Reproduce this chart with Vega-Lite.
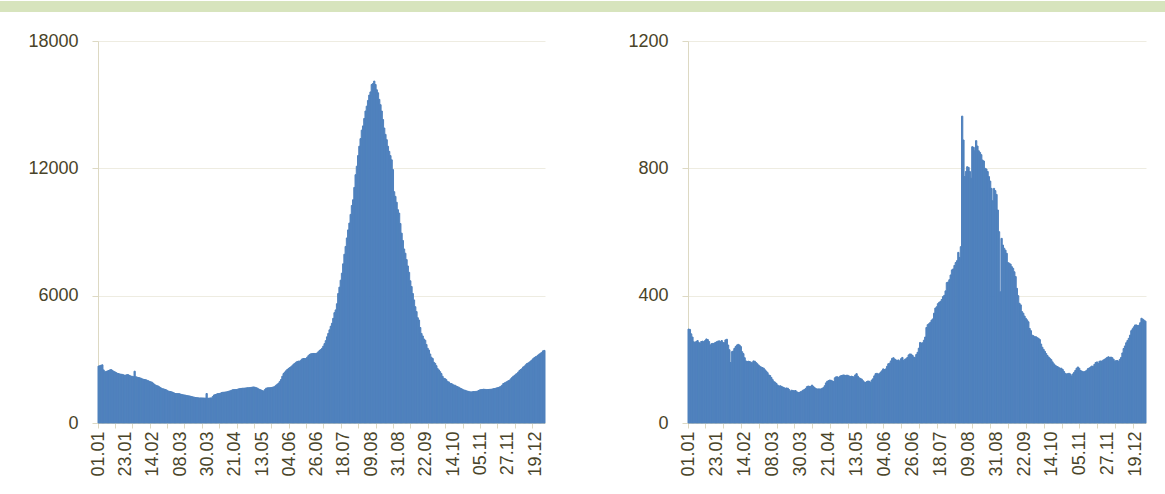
{
"$schema": "https://vega.github.io/schema/vega-lite/v6.json",
"padding": 0,
"background": "white",
"spacing": 20,
"config": {"view": {"stroke": null}, "axis": {"labelFont": "Liberation Sans", "labelFontSize": 18, "labelColor": "#494429", "title": null}},
"datasets": {"d": [
{"t":"01.01","a":2680,"b":295},{"t":"02.01","a":2700,"b":294},{"t":"03.01","a":2720,"b":280},{"t":"04.01","a":2740,"b":270},{"t":"05.01","a":2500,"b":255},{"t":"06.01","a":2410,"b":253},{"t":"07.01","a":2430,"b":256},{"t":"08.01","a":2450,"b":259},{"t":"09.01","a":2470,"b":253},{"t":"10.01","a":2500,"b":250},
{"t":"11.01","a":2520,"b":256},{"t":"12.01","a":2480,"b":257},{"t":"13.01","a":2440,"b":255},{"t":"14.01","a":2410,"b":259},{"t":"15.01","a":2380,"b":264},{"t":"16.01","a":2340,"b":262},{"t":"17.01","a":2330,"b":256},{"t":"18.01","a":2310,"b":245},{"t":"19.01","a":2300,"b":249},{"t":"20.01","a":2290,"b":250},
{"t":"21.01","a":2270,"b":250},{"t":"22.01","a":2250,"b":253},{"t":"23.01","a":2260,"b":255},{"t":"24.01","a":2280,"b":257},{"t":"25.01","a":2270,"b":258},{"t":"26.01","a":2240,"b":255},{"t":"27.01","a":2210,"b":259},{"t":"28.01","a":2200,"b":253},{"t":"29.01","a":2180,"b":252},{"t":"30.01","a":2440,"b":261},
{"t":"31.01","a":2180,"b":263},{"t":"01.02","a":2160,"b":245},{"t":"02.02","a":2140,"b":230},{"t":"03.02","a":2130,"b":190},{"t":"04.02","a":2110,"b":224},{"t":"05.02","a":2080,"b":226},{"t":"06.02","a":2060,"b":234},{"t":"07.02","a":2050,"b":240},{"t":"08.02","a":2040,"b":245},{"t":"09.02","a":2010,"b":247},
{"t":"10.02","a":1990,"b":245},{"t":"11.02","a":1960,"b":240},{"t":"12.02","a":1940,"b":224},{"t":"13.02","a":1920,"b":218},{"t":"14.02","a":1870,"b":205},{"t":"15.02","a":1820,"b":195},{"t":"16.02","a":1780,"b":193},{"t":"17.02","a":1760,"b":194},{"t":"18.02","a":1740,"b":193},{"t":"19.02","a":1700,"b":191},
{"t":"20.02","a":1660,"b":189},{"t":"21.02","a":1620,"b":195},{"t":"22.02","a":1610,"b":194},{"t":"23.02","a":1590,"b":190},{"t":"24.02","a":1575,"b":186},{"t":"25.02","a":1540,"b":182},{"t":"26.02","a":1510,"b":178},{"t":"27.02","a":1490,"b":176},{"t":"28.02","a":1480,"b":174},{"t":"01.03","a":1465,"b":172},
{"t":"02.03","a":1440,"b":167},{"t":"03.03","a":1410,"b":163},{"t":"04.03","a":1390,"b":158},{"t":"05.03","a":1386,"b":151},{"t":"06.03","a":1386,"b":149},{"t":"07.03","a":1380,"b":143},{"t":"08.03","a":1360,"b":136},{"t":"09.03","a":1345,"b":130},{"t":"10.03","a":1330,"b":128},{"t":"11.03","a":1320,"b":124},
{"t":"12.03","a":1310,"b":119},{"t":"13.03","a":1295,"b":116},{"t":"14.03","a":1285,"b":117},{"t":"15.03","a":1275,"b":115},{"t":"16.03","a":1260,"b":113},{"t":"17.03","a":1245,"b":111},{"t":"18.03","a":1230,"b":109},{"t":"19.03","a":1215,"b":110},{"t":"20.03","a":1200,"b":109},{"t":"21.03","a":1195,"b":105},
{"t":"22.03","a":1190,"b":100},{"t":"23.03","a":1180,"b":103},{"t":"24.03","a":1180,"b":102},{"t":"25.03","a":1180,"b":101},{"t":"26.03","a":1180,"b":102},{"t":"27.03","a":1175,"b":98},{"t":"28.03","a":1170,"b":96},{"t":"29.03","a":1390,"b":96},{"t":"30.03","a":1165,"b":98},{"t":"31.03","a":1170,"b":100},
{"t":"01.04","a":1180,"b":103},{"t":"02.04","a":1180,"b":105},{"t":"03.04","a":1250,"b":108},{"t":"04.04","a":1320,"b":114},{"t":"05.04","a":1340,"b":116},{"t":"06.04","a":1360,"b":115},{"t":"07.04","a":1385,"b":115},{"t":"08.04","a":1390,"b":119},{"t":"09.04","a":1400,"b":115},{"t":"10.04","a":1430,"b":111},
{"t":"11.04","a":1445,"b":108},{"t":"12.04","a":1450,"b":107},{"t":"13.04","a":1460,"b":107},{"t":"14.04","a":1465,"b":107},{"t":"15.04","a":1480,"b":107},{"t":"16.04","a":1500,"b":109},{"t":"17.04","a":1515,"b":111},{"t":"18.04","a":1540,"b":117},{"t":"19.04","a":1565,"b":126},{"t":"20.04","a":1575,"b":131},
{"t":"21.04","a":1575,"b":133},{"t":"22.04","a":1575,"b":135},{"t":"23.04","a":1590,"b":134},{"t":"24.04","a":1610,"b":132},{"t":"25.04","a":1622,"b":130},{"t":"26.04","a":1630,"b":142},{"t":"27.04","a":1638,"b":145},{"t":"28.04","a":1640,"b":145},{"t":"29.04","a":1648,"b":143},{"t":"30.04","a":1655,"b":147},
{"t":"01.05","a":1660,"b":149},{"t":"02.05","a":1665,"b":150},{"t":"03.05","a":1670,"b":151},{"t":"04.05","a":1680,"b":149},{"t":"05.05","a":1690,"b":150},{"t":"06.05","a":1700,"b":150},{"t":"07.05","a":1680,"b":148},{"t":"08.05","a":1660,"b":146},{"t":"09.05","a":1640,"b":147},{"t":"10.05","a":1600,"b":146},
{"t":"11.05","a":1575,"b":144},{"t":"12.05","a":1550,"b":151},{"t":"13.05","a":1520,"b":155},{"t":"14.05","a":1510,"b":147},{"t":"15.05","a":1580,"b":142},{"t":"16.05","a":1640,"b":140},{"t":"17.05","a":1655,"b":138},{"t":"18.05","a":1660,"b":133},{"t":"19.05","a":1665,"b":129},{"t":"20.05","a":1670,"b":127},
{"t":"21.05","a":1685,"b":130},{"t":"22.05","a":1700,"b":132},{"t":"23.05","a":1730,"b":131},{"t":"24.05","a":1780,"b":128},{"t":"25.05","a":1830,"b":135},{"t":"26.05","a":1880,"b":139},{"t":"27.05","a":1960,"b":148},{"t":"28.05","a":2050,"b":155},{"t":"29.05","a":2200,"b":156},{"t":"30.05","a":2330,"b":154},
{"t":"31.05","a":2400,"b":155},{"t":"01.06","a":2460,"b":160},{"t":"02.06","a":2520,"b":164},{"t":"03.06","a":2570,"b":170},{"t":"04.06","a":2610,"b":168},{"t":"05.06","a":2650,"b":170},{"t":"06.06","a":2700,"b":178},{"t":"07.06","a":2770,"b":186},{"t":"08.06","a":2810,"b":188},{"t":"09.06","a":2860,"b":195},
{"t":"10.06","a":2900,"b":203},{"t":"11.06","a":2915,"b":205},{"t":"12.06","a":2915,"b":201},{"t":"13.06","a":2960,"b":198},{"t":"14.06","a":3020,"b":197},{"t":"15.06","a":3040,"b":198},{"t":"16.06","a":3040,"b":194},{"t":"17.06","a":3040,"b":202},{"t":"18.06","a":3100,"b":206},{"t":"19.06","a":3170,"b":196},
{"t":"20.06","a":3230,"b":200},{"t":"21.06","a":3260,"b":202},{"t":"22.06","a":3270,"b":206},{"t":"23.06","a":3276,"b":214},{"t":"24.06","a":3276,"b":217},{"t":"25.06","a":3276,"b":216},{"t":"26.06","a":3300,"b":212},{"t":"27.06","a":3355,"b":207},{"t":"28.06","a":3420,"b":205},{"t":"29.06","a":3460,"b":215},
{"t":"30.06","a":3520,"b":222},{"t":"01.07","a":3620,"b":235},{"t":"02.07","a":3740,"b":253},{"t":"03.07","a":3880,"b":251},{"t":"04.07","a":4060,"b":252},{"t":"05.07","a":4220,"b":260},{"t":"06.07","a":4390,"b":270},{"t":"07.07","a":4560,"b":300},{"t":"08.07","a":4700,"b":309},{"t":"09.07","a":4930,"b":312},
{"t":"10.07","a":5200,"b":316},{"t":"11.07","a":5330,"b":323},{"t":"12.07","a":5620,"b":327},{"t":"13.07","a":6100,"b":345},{"t":"14.07","a":6400,"b":361},{"t":"15.07","a":6730,"b":365},{"t":"16.07","a":7060,"b":375},{"t":"17.07","a":7500,"b":379},{"t":"18.07","a":7950,"b":382},{"t":"19.07","a":8320,"b":388},
{"t":"20.07","a":8720,"b":397},{"t":"21.07","a":9100,"b":401},{"t":"22.07","a":9420,"b":415},{"t":"23.07","a":9830,"b":441},{"t":"24.07","a":10250,"b":443},{"t":"25.07","a":10520,"b":450},{"t":"26.07","a":11100,"b":465},{"t":"27.07","a":11700,"b":481},{"t":"28.07","a":12100,"b":484},{"t":"29.07","a":12600,"b":495},
{"t":"30.07","a":13040,"b":504},{"t":"31.07","a":13400,"b":510},{"t":"01.08","a":13800,"b":536},{"t":"02.08","a":14000,"b":520},{"t":"03.08","a":14350,"b":554},{"t":"04.08","a":14700,"b":964},{"t":"05.08","a":14930,"b":889},{"t":"06.08","a":15200,"b":774},{"t":"07.08","a":15450,"b":790},{"t":"08.08","a":15600,"b":805},
{"t":"09.08","a":15950,"b":803},{"t":"10.08","a":16000,"b":790},{"t":"11.08","a":16110,"b":769},{"t":"12.08","a":15950,"b":868},{"t":"13.08","a":15700,"b":866},{"t":"14.08","a":15560,"b":855},{"t":"15.08","a":15250,"b":887},{"t":"16.08","a":15000,"b":870},{"t":"17.08","a":14700,"b":855},{"t":"18.08","a":14300,"b":850},
{"t":"19.08","a":13900,"b":843},{"t":"20.08","a":13600,"b":826},{"t":"21.08","a":13350,"b":823},{"t":"22.08","a":13040,"b":800},{"t":"23.08","a":12800,"b":798},{"t":"24.08","a":12600,"b":790},{"t":"25.08","a":12400,"b":774},{"t":"26.08","a":11940,"b":760},{"t":"27.08","a":10900,"b":737},{"t":"28.08","a":10679,"b":698},
{"t":"29.08","a":10400,"b":737},{"t":"30.08","a":10050,"b":730},{"t":"31.08","a":9890,"b":718},{"t":"01.09","a":9400,"b":669},{"t":"02.09","a":8946,"b":601},{"t":"03.09","a":8600,"b":412},{"t":"04.09","a":8200,"b":580},{"t":"05.09","a":8000,"b":559},{"t":"06.09","a":7700,"b":549},{"t":"07.09","a":7400,"b":543},
{"t":"08.09","a":7100,"b":533},{"t":"09.09","a":6700,"b":504},{"t":"10.09","a":6430,"b":502},{"t":"11.09","a":6100,"b":499},{"t":"12.09","a":5800,"b":491},{"t":"13.09","a":5480,"b":486},{"t":"14.09","a":5250,"b":475},{"t":"15.09","a":4960,"b":460},{"t":"16.09","a":4850,"b":423},{"t":"17.09","a":4500,"b":400},
{"t":"18.09","a":4220,"b":376},{"t":"19.09","a":4100,"b":371},{"t":"20.09","a":3960,"b":350},{"t":"21.09","a":3900,"b":345},{"t":"22.09","a":3700,"b":336},{"t":"23.09","a":3520,"b":329},{"t":"24.09","a":3434,"b":324},{"t":"25.09","a":3250,"b":318},{"t":"26.09","a":3100,"b":297},{"t":"27.09","a":3040,"b":290},
{"t":"28.09","a":2860,"b":276},{"t":"29.09","a":2810,"b":274},{"t":"30.09","a":2700,"b":271},{"t":"01.10","a":2560,"b":271},{"t":"02.10","a":2500,"b":268},{"t":"03.10","a":2420,"b":266},{"t":"04.10","a":2330,"b":262},{"t":"05.10","a":2200,"b":248},{"t":"06.10","a":2110,"b":238},{"t":"07.10","a":2090,"b":231},
{"t":"08.10","a":2040,"b":225},{"t":"09.10","a":1950,"b":218},{"t":"10.10","a":1937,"b":212},{"t":"11.10","a":1870,"b":207},{"t":"12.10","a":1859,"b":203},{"t":"13.10","a":1830,"b":199},{"t":"14.10","a":1790,"b":192},{"t":"15.10","a":1780,"b":186},{"t":"16.10","a":1740,"b":182},{"t":"17.10","a":1710,"b":179},
{"t":"18.10","a":1690,"b":177},{"t":"19.10","a":1650,"b":174},{"t":"20.10","a":1620,"b":172},{"t":"21.10","a":1590,"b":172},{"t":"22.10","a":1560,"b":168},{"t":"23.10","a":1544,"b":162},{"t":"24.10","a":1520,"b":156},{"t":"25.10","a":1500,"b":154},{"t":"26.10","a":1490,"b":155},{"t":"27.10","a":1470,"b":156},
{"t":"28.10","a":1465,"b":154},{"t":"29.10","a":1470,"b":148},{"t":"30.10","a":1480,"b":154},{"t":"31.10","a":1480,"b":159},{"t":"01.11","a":1490,"b":165},{"t":"02.11","a":1496,"b":172},{"t":"03.11","a":1530,"b":176},{"t":"04.11","a":1560,"b":172},{"t":"05.11","a":1575,"b":165},{"t":"06.11","a":1580,"b":163},
{"t":"07.11","a":1591,"b":161},{"t":"08.11","a":1585,"b":161},{"t":"09.11","a":1580,"b":163},{"t":"10.11","a":1575,"b":166},{"t":"11.11","a":1580,"b":171},{"t":"12.11","a":1585,"b":173},{"t":"13.11","a":1591,"b":176},{"t":"14.11","a":1600,"b":179},{"t":"15.11","a":1615,"b":177},{"t":"16.11","a":1622,"b":184},
{"t":"17.11","a":1640,"b":190},{"t":"18.11","a":1660,"b":192},{"t":"19.11","a":1675,"b":187},{"t":"20.11","a":1700,"b":194},{"t":"21.11","a":1730,"b":195},{"t":"22.11","a":1780,"b":194},{"t":"23.11","a":1860,"b":198},{"t":"24.11","a":1890,"b":200},{"t":"25.11","a":1920,"b":203},{"t":"26.11","a":1950,"b":206},
{"t":"27.11","a":1990,"b":208},{"t":"28.11","a":2016,"b":206},{"t":"29.11","a":2080,"b":207},{"t":"30.11","a":2140,"b":205},{"t":"01.12","a":2200,"b":200},{"t":"02.12","a":2240,"b":194},{"t":"03.12","a":2300,"b":196},{"t":"04.12","a":2331,"b":196},{"t":"05.12","a":2400,"b":194},{"t":"06.12","a":2470,"b":200},
{"t":"07.12","a":2520,"b":206},{"t":"08.12","a":2560,"b":220},{"t":"09.12","a":2640,"b":234},{"t":"10.12","a":2680,"b":242},{"t":"11.12","a":2740,"b":252},{"t":"12.12","a":2800,"b":259},{"t":"13.12","a":2830,"b":266},{"t":"14.12","a":2870,"b":276},{"t":"15.12","a":2920,"b":290},{"t":"16.12","a":2970,"b":296},
{"t":"17.12","a":3030,"b":302},{"t":"18.12","a":3080,"b":308},{"t":"19.12","a":3120,"b":308},{"t":"20.12","a":3150,"b":306},{"t":"21.12","a":3200,"b":307},{"t":"22.12","a":3250,"b":315},{"t":"23.12","a":3290,"b":329},{"t":"24.12","a":3330,"b":326},{"t":"25.12","a":3400,"b":323},{"t":"26.12","a":3420,"b":320}
]},
"vconcat": [
{"width": 1165, "height": 11, "view": {"fill": "#d7e4bd", "stroke": null}, "data": {"values": [{}]}, "mark": {"type": "text", "text": ""}},
{"hconcat": [
{"width": 1, "height": 1, "data": {"values": [{}]}, "mark": {"type": "text", "text": ""}},
{"width": 447, "height": 382, "data": {"name": "d"}, "resolve": {"axis": {"x": "independent"}},
 "layer": [
  {"mark": {"type": "bar", "color": "#4f81bd", "stroke": "#4f81bd", "strokeWidth": 1},
   "encoding": {
    "x": {"field": "t", "type": "ordinal", "sort": null, "scale": {"paddingInner": 0, "paddingOuter": 0},
      "axis": {"orient": "bottom", "values": ["01.01","23.01","14.02","08.03","30.03","21.04","13.05","04.06","26.06","18.07","09.08","31.08","22.09","14.10","05.11","27.11","19.12"], "labelAngle": -90, "labelPadding": 8, "ticks": false, "tickSize": 0, "domainColor": "#ddd9c3", "grid": false, "labelOverlap": false, "labelBound": false, "labelFlush": false}},
    "y": {"field": "a", "type": "quantitative", "scale": {"domain": [0, 18000], "nice": false},
      "axis": {"values": [0, 6000, 12000, 18000], "format": "d", "grid": true, "gridColor": "#eeece1", "domainColor": "#ddd9c3", "tickColor": "#ddd9c3", "tickSize": 6, "labelPadding": 14, "minExtent": 97, "labelOverlap": false}}
   }},
  {"mark": {"type": "bar", "opacity": 0},
   "encoding": {
    "x": {"field": "t", "type": "ordinal", "sort": null,
      "axis": {"orient": "bottom", "values": ["01.01","15.01","29.01","12.02","26.02","12.03","26.03","09.04","23.04","07.05","21.05","04.06","18.06","02.07","16.07","30.07","13.08","27.08","10.09","24.09","08.10","22.10","05.11","19.11","03.12","17.12"], "bandPosition": 0, "labels": false, "domain": false, "ticks": true, "tickSize": 5, "tickColor": "#ddd9c3", "grid": false}}
   }}
 ]},
{"width": 458, "height": 382, "data": {"name": "d"}, "resolve": {"axis": {"x": "independent"}},
 "layer": [
  {"mark": {"type": "bar", "color": "#4f81bd", "stroke": "#4f81bd", "strokeWidth": 1},
   "encoding": {
    "x": {"field": "t", "type": "ordinal", "sort": null, "scale": {"paddingInner": 0, "paddingOuter": 0},
      "axis": {"orient": "bottom", "values": ["01.01","23.01","14.02","08.03","30.03","21.04","13.05","04.06","26.06","18.07","09.08","31.08","22.09","14.10","05.11","27.11","19.12"], "labelAngle": -90, "labelPadding": 8, "ticks": false, "tickSize": 0, "domainColor": "#ddd9c3", "grid": false, "labelOverlap": false, "labelBound": false, "labelFlush": false}},
    "y": {"field": "b", "type": "quantitative", "scale": {"domain": [0, 1200], "nice": false},
      "axis": {"values": [0, 400, 800, 1200], "format": "d", "grid": true, "gridColor": "#eeece1", "domainColor": "#ddd9c3", "tickColor": "#ddd9c3", "tickSize": 6, "labelPadding": 14, "minExtent": 142, "labelOverlap": false}}
   }},
  {"mark": {"type": "bar", "opacity": 0},
   "encoding": {
    "x": {"field": "t", "type": "ordinal", "sort": null,
      "axis": {"orient": "bottom", "values": ["01.01","15.01","29.01","12.02","26.02","12.03","26.03","09.04","23.04","07.05","21.05","04.06","18.06","02.07","16.07","30.07","13.08","27.08","10.09","24.09","08.10","22.10","05.11","19.11","03.12","17.12"], "bandPosition": 0, "labels": false, "domain": false, "ticks": true, "tickSize": 5, "tickColor": "#ddd9c3", "grid": false}}
   }}
 ]}
], "spacing": 0, "resolve": {"scale": {"x": "independent", "y": "independent"}}}
]
}
